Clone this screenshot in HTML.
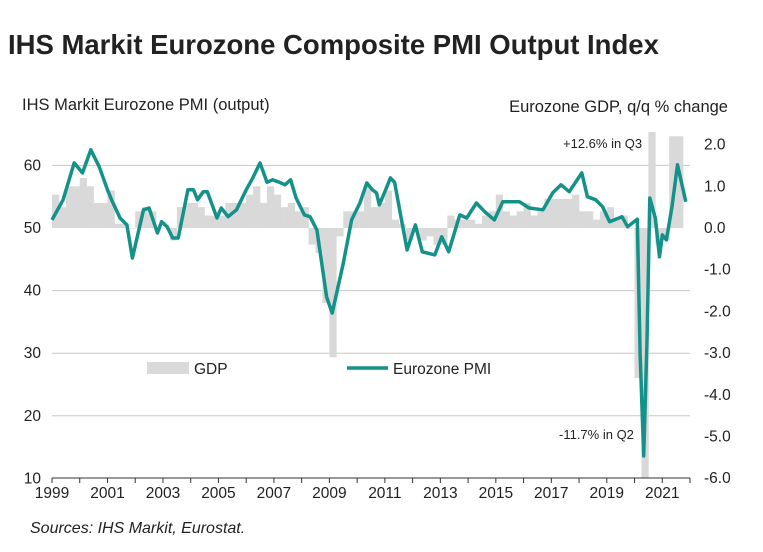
<!DOCTYPE html>
<html><head><meta charset="utf-8">
<style>
body{margin:0;background:#fff;font-family:"Liberation Sans",Arial,sans-serif;}
svg text{font-family:"Liberation Sans",Arial,sans-serif;fill:#222;}
</style></head>
<body>
<svg id="chart" width="763" height="547" viewBox="0 0 763 547" xmlns="http://www.w3.org/2000/svg">
<text x="8" y="54" font-size="27.5" font-weight="bold" fill="#000">IHS Markit Eurozone Composite PMI Output Index</text>
<text x="22" y="110" font-size="16.5">IHS Markit Eurozone PMI (output)</text>
<text x="728" y="112" font-size="16.5" text-anchor="end">Eurozone GDP, q/q % change</text>
<g id="grid"></g>
<g id="bars"></g>
<g id="axes"></g>
<path id="pmiline" fill="none" stroke="#14928a" stroke-width="3.5" stroke-linejoin="round"/>
<text x="563" y="148" font-size="13">+12.6% in Q3</text>
<text x="559" y="439" font-size="13">-11.7% in Q2</text>
<g>
<rect x="147" y="362" width="42" height="12" fill="#d9d9d9"/>
<text x="194" y="374" font-size="15.5">GDP</text>
<line x1="347" y1="368" x2="388" y2="368" stroke="#14928a" stroke-width="3.5"/>
<text x="393" y="374" font-size="15.5">Eurozone PMI</text>
</g>
<text x="30" y="533" font-size="16" font-style="italic">Sources: IHS Markit, Eurostat.</text>
</svg>
<script>
const pmiDates=[1999.0,1999.4,1999.8,2000.1,2000.4,2000.7,2001.0,2001.15,2001.45,2001.7,2001.9,2002.3,2002.5,2002.8,2002.95,2003.15,2003.35,2003.55,2003.9,2004.1,2004.25,2004.45,2004.6,2004.95,2005.1,2005.35,2005.65,2006.0,2006.25,2006.5,2006.75,2006.95,2007.2,2007.4,2007.6,2007.8,2008.1,2008.3,2008.55,2008.9,2009.1,2009.5,2009.8,2010.1,2010.35,2010.55,2010.7,2010.8,2011.0,2011.2,2011.35,2011.6,2011.8,2012.1,2012.35,2012.8,2013.05,2013.3,2013.7,2013.95,2014.3,2014.6,2014.95,2015.25,2015.85,2016.2,2016.7,2017.05,2017.35,2017.65,2018.1,2018.3,2018.6,2018.85,2019.1,2019.55,2019.75,2020.1,2020.2,2020.33,2020.45,2020.55,2020.75,2020.9,2021.0,2021.15,2021.35,2021.55,2021.85];
const pmiValues=[51.3,54.5,60.4,58.8,62.5,59.8,56.1,54.5,51.6,50.5,45.2,52.9,53.2,49.2,51.0,50.2,48.4,48.4,56.1,56.1,54.5,55.8,55.8,51.6,53.2,51.8,52.9,56.1,58.1,60.4,57.3,57.7,57.3,56.9,57.7,54.8,52.1,51.8,49.7,39.0,36.4,44.4,51.3,54.0,57.2,56.1,55.6,53.7,55.8,58.0,57.3,51.3,46.5,50.5,46.2,45.7,48.6,46.2,52.1,51.6,54.0,52.6,51.3,54.2,54.2,53.2,52.9,55.6,56.9,55.8,58.8,55.0,54.5,53.4,51.0,51.8,50.2,51.4,30.0,13.6,32.0,54.8,51.6,45.4,48.9,48.1,53.4,60.1,54.2];
const gdpStartYear=1999;
const gdpValues=[0.8,0.5,1.0,1.0,1.2,1.0,0.6,0.6,0.9,0.1,0.1,0.0,0.4,0.5,0.4,0.0,0.0,-0.3,0.5,0.6,0.6,0.5,0.3,0.3,0.3,0.6,0.6,0.6,0.8,1.0,0.6,1.0,0.8,0.5,0.6,0.4,0.5,-0.4,-0.6,-1.8,-3.1,-0.2,0.4,0.4,0.4,1.0,0.5,0.6,0.9,0.2,0.1,-0.3,-0.1,-0.3,-0.2,-0.4,-0.4,0.3,0.2,0.2,0.2,0.1,0.3,0.4,0.8,0.4,0.3,0.4,0.6,0.3,0.4,0.7,0.7,0.7,0.7,0.8,0.4,0.4,0.2,0.4,0.5,0.2,0.3,0.0,-3.6,-11.7,12.6,-0.4,-0.3,2.2,2.2];
const leftTicks=[10,20,30,40,50,60];
const rightTicks=[-6,-5,-4,-3,-2,-1,0,1,2];
const yearLabels=[1999,2001,2003,2005,2007,2009,2011,2013,2015,2017,2019,2021];

const NS="http://www.w3.org/2000/svg";
const X0=52,X1=690,TOP=132,BOT=478;
const xs=t=>X0+(t-1999)*(X1-X0)/23;
const yl=v=>228-(v-50)*6.26;
const yr=v=>228-v*41.7;
function mk(tag,attrs,parent){const e=document.createElementNS(NS,tag);for(const k in attrs)e.setAttribute(k,attrs[k]);parent.appendChild(e);return e;}
const grid=document.getElementById('grid'),bars=document.getElementById('bars'),axes=document.getElementById('axes');
[20,30,40,60].forEach(v=>{
  const l=mk('line',{x1:X0,x2:X1,y1:yl(v),y2:yl(v),stroke:'#c8c8c8','stroke-width':1},grid);
  
  
});
const clip=y=>Math.max(TOP,Math.min(BOT,y));
gdpValues.forEach((v,i)=>{
  const t=gdpStartYear+i/4;
  const xa=xs(t),xb=xs(t+0.25);
  const y0=yr(0),y1=clip(yr(v));
  const r=mk('rect',{x:xa,width:xb-xa+0.3,y:Math.min(y0,y1),height:Math.max(0.5,Math.abs(y1-y0)),fill:'#d9d9d9'},bars);
  
  
});
const ax=mk('line',{x1:X0,x2:X1,y1:BOT,y2:BOT,stroke:'#333','stroke-width':1},axes);


for(let y=1999;y<=2022;y++){
  const tk=mk('line',{x1:xs(y),x2:xs(y),y1:BOT,y2:BOT+5,stroke:'#333'},axes);
  
  
}
yearLabels.forEach(y=>{
  const t=mk('text',{x:xs(y),y:BOT+20,'font-size':15.5,'text-anchor':'middle'},axes);t.textContent=y;
  
  
});
leftTicks.forEach(v=>{
  const t=mk('text',{x:41,y:yl(v)+5,'font-size':15.5,'text-anchor':'end'},axes);t.textContent=v;
  
  
});
rightTicks.forEach(v=>{
  const t=mk('text',{x:704,y:yr(v)+5,'font-size':15.5},axes);t.textContent=(v<0?'-':'')+Math.abs(v).toFixed(1);
  
  
});
document.getElementById('pmiline').setAttribute('d',pmiDates.map((t,i)=>(i?'L':'M')+xs(t).toFixed(1)+','+yl(pmiValues[i]).toFixed(1)).join(''));
</script>
</body></html>
